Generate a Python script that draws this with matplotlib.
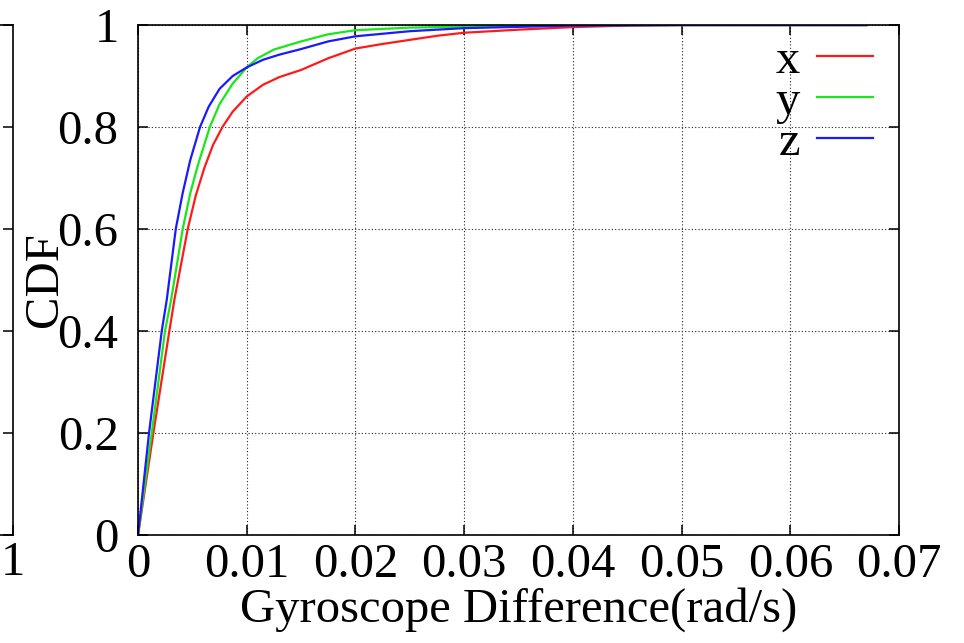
import matplotlib
matplotlib.use("Agg")
import matplotlib.pyplot as plt

plt.rcParams['font.family'] = ['Liberation Serif', 'DejaVu Serif']

# Datos (CDF de la diferencia del giroscopio)
x_x = [0, 0.00141, 0.00288, 0.00334, 0.00457, 0.0053, 0.0061, 0.0069, 0.00776,
       0.0087, 0.01, 0.0115, 0.013, 0.015, 0.0175, 0.02, 0.0225, 0.025, 0.0275,
       0.03, 0.035, 0.04, 0.045, 0.05, 0.067]
cdf_x = [0, 0.2, 0.4, 0.461, 0.6, 0.665, 0.72, 0.765, 0.8,
         0.83, 0.86, 0.883, 0.898, 0.912, 0.935, 0.954, 0.963, 0.971, 0.979,
         0.985, 0.991, 0.996, 0.999, 1.0, 1.0]

x_y = [0, 0.00126, 0.00248, 0.00304, 0.00411, 0.0048, 0.0055, 0.0066, 0.0075,
       0.0087, 0.01, 0.011, 0.0125, 0.015, 0.0175, 0.02, 0.025, 0.03, 0.04, 0.067]
cdf_y = [0, 0.2, 0.4, 0.461, 0.6, 0.67, 0.725, 0.8, 0.845,
         0.885, 0.917, 0.935, 0.952, 0.968, 0.982, 0.990, 0.995, 0.997, 1.0, 1.0]

x_z = [0, 0.00101, 0.00218, 0.00264, 0.00347, 0.0041, 0.0048, 0.0057, 0.0065,
       0.0075, 0.0087, 0.01, 0.0115, 0.013, 0.015, 0.0175, 0.02, 0.025, 0.03,
       0.04, 0.05, 0.067]
cdf_z = [0, 0.2, 0.4, 0.461, 0.6, 0.67, 0.735, 0.8, 0.84,
         0.875, 0.9, 0.917, 0.932, 0.942, 0.953, 0.968, 0.978, 0.988, 0.994,
         0.999, 1.0, 1.0]

xticks = [0, 0.01, 0.02, 0.03, 0.04, 0.05, 0.06, 0.07]
xticklabels = ["0", "0.01", "0.02", "0.03", "0.04", "0.05", "0.06", "0.07"]
yticks = [0, 0.2, 0.4, 0.6, 0.8, 1]
yticklabels = ["0", "0.2", "0.4", "0.6", "0.8", "1"]

FS = 35

fig = plt.figure(figsize=(9.64, 6.43), dpi=100)

# Trozo del panel vecino a la izquierda
ax0 = fig.add_axes([-0.8, 0.168, 0.8135, 0.793])
ax0.set_xlim(0, 1)
ax0.set_ylim(0, 1)
ax0.set_xticks([1])
ax0.set_xticklabels(["1"], fontsize=FS)
ax0.set_yticks(yticks)
ax0.set_yticklabels([])
ax0.tick_params(direction="in", length=7, width=1.1, right=True, left=False,
                top=False, pad=4)
for s in ax0.spines.values():
    s.set_linewidth(1.2)

# Panel principal
ax = fig.add_axes([0.1432, 0.168, 0.7894, 0.793])
ax.plot(x_x, cdf_x, color="#ff1a1a", lw=1.6, label="x")
ax.plot(x_y, cdf_y, color="#1ae61a", lw=1.6, label="y")
ax.plot(x_z, cdf_z, color="#1a1aff", lw=1.6, label="z")

ax.set_xlim(0, 0.07)
ax.set_ylim(0, 1)
ax.set_xticks(xticks)
ax.set_xticklabels(xticklabels, fontsize=FS)
ax.set_yticks(yticks)
ax.set_yticklabels(yticklabels, fontsize=FS)
ax.tick_params(axis="both", direction="in", length=7, width=1.1,
               top=True, right=True)
ax.tick_params(axis="y", pad=14)
ax.tick_params(axis="x", pad=6)
ax.grid(True, linestyle=(0, (1, 2)), color="#222222", linewidth=0.8)
for s in ax.spines.values():
    s.set_linewidth(1.2)

ax.set_xlabel("Gyroscope Difference(rad/s)", fontsize=FS, labelpad=0)
ax.set_ylabel("CDF", fontsize=FS, labelpad=-7)

leg = ax.legend(loc="upper right", bbox_to_anchor=(1.004, 1.03), frameon=False,
                fontsize=FS, markerfirst=False, handlelength=1.15,
                handletextpad=0.35, labelspacing=-0.06, borderpad=0.1)

fig.savefig("out.png", dpi=100)
